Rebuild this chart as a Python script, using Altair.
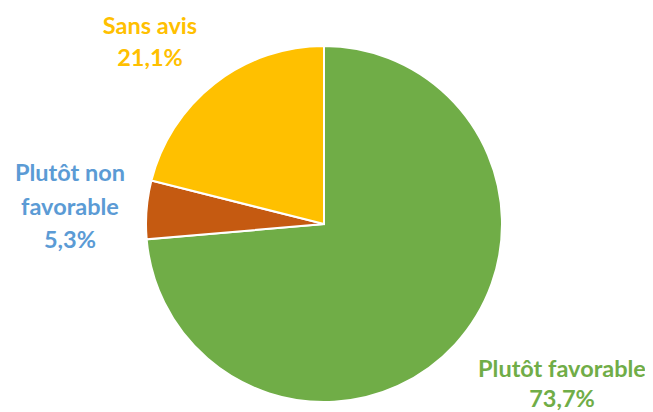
import altair as alt
import pandas as pd

categories = ["Plutôt favorable", "Plutôt non favorable", "Sans avis"]
values = [73.7, 5.3, 21.1]
slice_colors = ["#70AD47", "#C55A11", "#FFC000"]
label_texts = [["Plutôt favorable", "73,7%"], ["Plutôt non", "favorable", "5,3%"], ["Sans avis", "21,1%"]]
label_colors = ["#70AD47", "#5B9BD5", "#FFC000"]

df = pd.DataFrame({"cat": categories, "val": values, "order": [0, 1, 2]})

CX, CY, R = 316, 216, 178

pie = alt.Chart(df).mark_arc(radius=R, stroke="white", strokeWidth=2).encode(
    theta=alt.Theta("val:Q", stack=True),
    order=alt.Order("order:Q"),
    color=alt.Color("cat:N", scale=alt.Scale(domain=categories, range=slice_colors), legend=None),
    x=alt.value(CX),
    y=alt.value(CY),
)

label_pos = [(554, 362), (62, 166), (142, 19)]
line_heights = [30, 33.5, 32]
layers = [pie]
for txt, col, (lx, ly), lh in zip(label_texts, label_colors, label_pos, line_heights):
    ld = pd.DataFrame({"t": [txt]})
    layers.append(
        alt.Chart(ld).mark_text(
            font="Lato", fontSize=23.5, fontWeight="bold", color=col,
            align="center", baseline="middle", lineHeight=lh,
        ).encode(text="t:N", x=alt.value(lx), y=alt.value(ly))
    )

chart = alt.layer(*layers).properties(
    width=637, height=403, autosize=alt.AutoSizeParams(type="none"), padding=0
).configure_view(stroke=None)

chart.save("out.html", embed_options={"renderer": "svg", "actions": False})
